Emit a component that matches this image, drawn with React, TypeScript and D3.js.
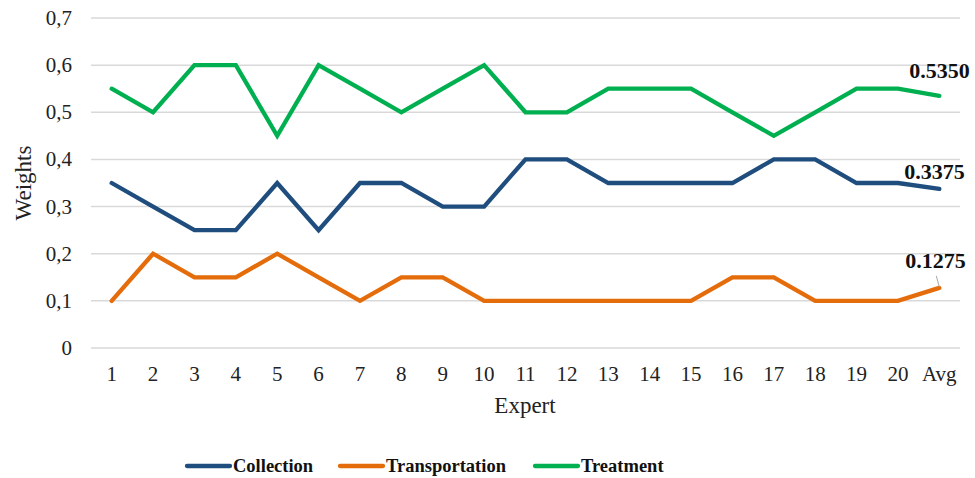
import React from "react";
import * as d3 from "d3";

const experts = ["1","2","3","4","5","6","7","8","9","10","11","12","13","14","15","16","17","18","19","20","Avg"];
const collection = [0.35,0.3,0.25,0.25,0.35,0.25,0.35,0.35,0.3,0.3,0.4,0.4,0.35,0.35,0.35,0.35,0.4,0.4,0.35,0.35,0.3375];
const transportation = [0.1,0.2,0.15,0.15,0.2,0.15,0.1,0.15,0.15,0.1,0.1,0.1,0.1,0.1,0.1,0.15,0.15,0.1,0.1,0.1,0.1275];
const treatment = [0.55,0.5,0.6,0.6,0.45,0.6,0.55,0.5,0.55,0.6,0.5,0.5,0.55,0.55,0.55,0.5,0.45,0.5,0.55,0.55,0.535];
const yTicks = [0,0.1,0.2,0.3,0.4,0.5,0.6,0.7];

const seriesList = [
  { name: "Collection", values: collection, color: "#1F4D7E" },
  { name: "Transportation", values: transportation, color: "#E46C0A" },
  { name: "Treatment", values: treatment, color: "#00B050" },
];

const W = 975, H = 478;
const txt = { fontFamily: "Liberation Serif" };

export default function App() {
  const x = d3.scaleBand<string>().domain(experts).range([91, 960]);
  const y = d3.scaleLinear().domain([0, 0.7]).range([348, 18]);
  const cx = (k: string) => (x(k) as number) + x.bandwidth() / 2;
  const line = d3.line<number>().x((_, i) => cx(experts[i])).y((v) => y(v));
  const fmt = (v: number) => (v === 0 ? "0" : d3.format(".1f")(v).replace(".", ","));
  const last = experts.length - 1;
  const legendX = [187, 340, 535];
  // offsets of each average label from its end point
  const labelOffset = [
    { dx: -35, dy: -10 },
    { dx: -34, dy: -20 },
    { dx: -30, dy: -18 },
  ];

  return (
    <svg width={W} height={H} style={{ position: "absolute", left: 0, top: 0, background: "#fff" }}>
      {yTicks.map((t) => (
        <g key={t}>
          <line x1={91} x2={960} y1={y(t)} y2={y(t)} stroke="#d9d9d9" strokeWidth={1.5} />
          <text x={72} y={y(t) + 7} textAnchor="end" fontSize={21} fill="#222" style={txt}>{fmt(t)}</text>
        </g>
      ))}
      {experts.map((e) => (
        <text key={e} x={cx(e)} y={381} textAnchor="middle" fontSize={21} fill="#222" style={txt}>{e}</text>
      ))}
      <text x={525} y={413} textAnchor="middle" fontSize={23} fill="#222" style={txt}>Expert</text>
      <text transform="translate(31,183) rotate(-90)" textAnchor="middle" fontSize={23} fill="#222" style={txt}>Weights</text>
      {seriesList.map((s) => (
        <path key={s.name} d={line(s.values) || ""} fill="none" stroke={s.color} strokeWidth={4.3} strokeLinejoin="miter" strokeLinecap="round" />
      ))}
      {seriesList.map((s, i) => {
        const v = s.values[last];
        const px = cx(experts[last]);
        const py = y(v);
        const o = labelOffset[i];
        return (
          <g key={s.name}>
            {s.name === "Transportation" && (
              <line x1={px - 3} y1={py - 12} x2={px} y2={py - 1} stroke="#a6a6a6" strokeWidth={1} />
            )}
            <text x={px + o.dx} y={py + o.dy} textAnchor="start" fontSize={22} fontWeight="bold" fill="#111" style={txt}>{v.toFixed(4)}</text>
          </g>
        );
      })}
      {seriesList.map((s, i) => (
        <g key={s.name}>
          <line x1={legendX[i]} x2={legendX[i] + 43} y1={466} y2={466} stroke={s.color} strokeWidth={4.3} strokeLinecap="round" />
          <text x={legendX[i] + 46} y={472} fontSize={18.5} fontWeight="bold" fill="#111" style={txt}>{s.name}</text>
        </g>
      ))}
    </svg>
  );
}
